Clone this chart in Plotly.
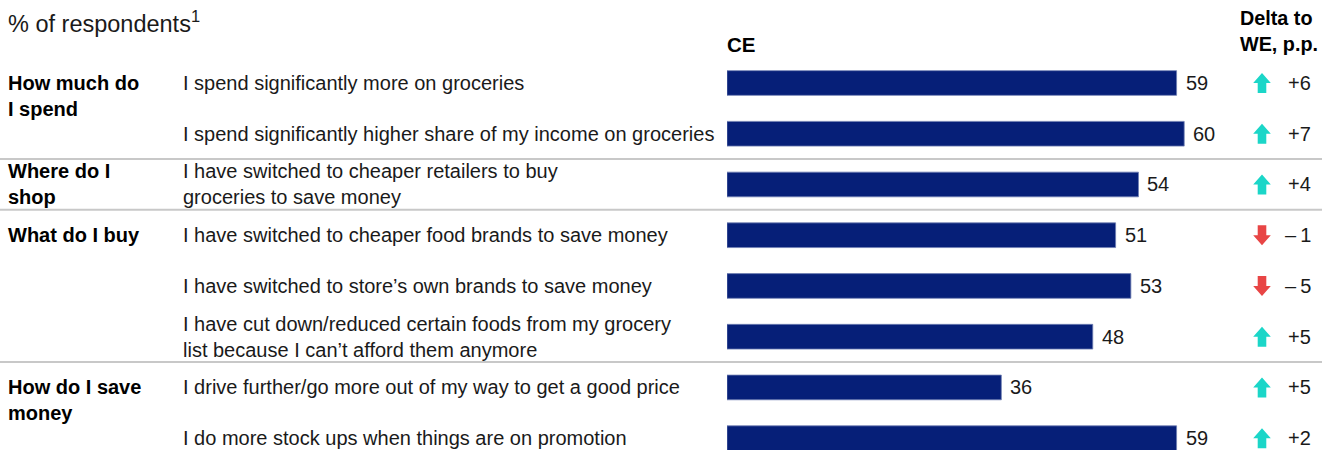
import plotly.graph_objects as go

# ---- data -------------------------------------------------------------
groups = ["How much do<br>I spend", "Where do I<br>shop", "What do I buy", "How do I save<br>money"]
group_start = [0, 2, 3, 6]          # first row of each group
group_shift = [-12.7, 0, 0, -13]    # vertical offset of the group heading (px)

items = [
    "I spend significantly more on groceries",
    "I spend significantly higher share of my income on groceries",
    "I have switched to cheaper retailers to buy<br>groceries to save money",
    "I have switched to cheaper food brands to save money",
    "I have switched to store\u2019s own brands to save money",
    "I have cut down/reduced certain foods from my grocery<br>list because I can\u2019t afford them anymore",
    "I drive further/go more out of my way to get a good price",
    "I do more stock ups when things are on promotion",
]
ce_values = [59, 60, 54, 51, 53, 48, 36, 59]
delta_we = [6, 7, 4, -1, -5, 5, 5, 2]

# ---- styling ----------------------------------------------------------
W, H = 1322, 450
FONT = "Liberation Sans, Arial, sans-serif"
FS = 20
NAVY = "#061F78"
TEAL = "#1BD6C8"
RED = "#E84545"
TXT = "#1a1a1a"
SEP = "#C8C8C8"

row_top_px = 83.0      # centre of the first row
row_step_px = 50.74    # row pitch
bar_left_px = 727
px_per_unit = 7.62

rows = list(range(len(items)))
y_range = [(H - row_top_px) / row_step_px, -row_top_px / row_step_px]
x_range = [0, (W - bar_left_px) / px_per_unit]

fig = go.Figure()
fig.add_trace(go.Bar(
    x=ce_values, y=rows, orientation="h",
    width=24.7 / row_step_px,
    marker=dict(color=NAVY, line=dict(color="#6F7FB3", width=0.8)),
    hoverinfo="skip",
))

annotations = []
shapes = []

# header texts
annotations.append(dict(xref="paper", yref="paper", x=6 / W, y=1 - 22 / H,
                        xanchor="left", yanchor="middle", showarrow=False,
                        text="% of respondents<sup>1</sup>",
                        font=dict(family=FONT, size=23.5, color=TXT)))
annotations.append(dict(xref="paper", yref="paper", x=(bar_left_px - 2) / W, y=1 - 45 / H,
                        xanchor="left", yanchor="middle", showarrow=False,
                        text="<b>CE</b>", font=dict(family=FONT, size=20.5, color="#000")))
annotations.append(dict(xref="paper", yref="paper", x=1320 / W, y=1 - 31 / H,
                        xanchor="right", yanchor="middle", align="left", showarrow=False,
                        text="<b>Delta to</b><br><b>WE, p.p.</b>",
                        font=dict(family=FONT, size=19.8, color="#000")))

# group headings
for g, r0, sh in zip(groups, group_start, group_shift):
    annotations.append(dict(xref="paper", yref="y", x=6 / W, y=r0, yshift=sh,
                            xanchor="left", yanchor="middle", showarrow=False, align="left",
                            text=f"<b>{g}</b>", font=dict(family=FONT, size=FS, color="#000")))

# item labels, values, deltas
for r, label, v, d in zip(rows, items, ce_values, delta_we):
    annotations.append(dict(xref="paper", yref="y", x=181 / W, y=r,
                            xanchor="left", yanchor="middle", showarrow=False, align="left",
                            text=label, font=dict(family=FONT, size=FS, color=TXT)))
    annotations.append(dict(xref="x", yref="y", x=v, y=r, xshift=7,
                            xanchor="left", yanchor="middle", showarrow=False,
                            text=str(v), font=dict(family=FONT, size=FS, color=TXT)))
    dtxt = f"+{d}" if d > 0 else f"\u2013\u2009{abs(d)}"
    annotations.append(dict(xref="paper", yref="y", x=1313 / W, y=r,
                            xanchor="right", yanchor="middle", showarrow=False,
                            text=dtxt, font=dict(family=FONT, size=FS, color=TXT)))
    # block arrow, geometry in pixels around the anchor point
    s = 1 if d > 0 else -1
    pts = [(0, 10), (8.8, 0), (4.3, 0), (4.3, -10), (-4.3, -10), (-4.3, 0), (-8.8, 0)]
    path = "M" + " L".join(f"{x},{s * y}" for x, y in pts) + " Z"
    shapes.append(dict(type="path", xref="paper", yref="y",
                       xsizemode="pixel", ysizemode="pixel",
                       xanchor=1262 / W, yanchor=r, path=path,
                       fillcolor=TEAL if d > 0 else RED, line=dict(width=0)))

# separators between groups
for r0 in group_start[1:]:
    shapes.append(dict(type="line", xref="paper", yref="y", x0=0, x1=1,
                       y0=r0 - 0.5, y1=r0 - 0.5, line=dict(color=SEP, width=2)))

fig.update_layout(
    width=W, height=H,
    margin=dict(l=0, r=0, t=0, b=0),
    paper_bgcolor="white", plot_bgcolor="white",
    showlegend=False,
    annotations=annotations, shapes=shapes,
    xaxis=dict(domain=[bar_left_px / W, 1], range=x_range, visible=False, fixedrange=True),
    yaxis=dict(range=y_range, visible=False, fixedrange=True),
    font=dict(family=FONT, color=TXT),
)

fig.write_html("out.html", config={"displayModeBar": False})
